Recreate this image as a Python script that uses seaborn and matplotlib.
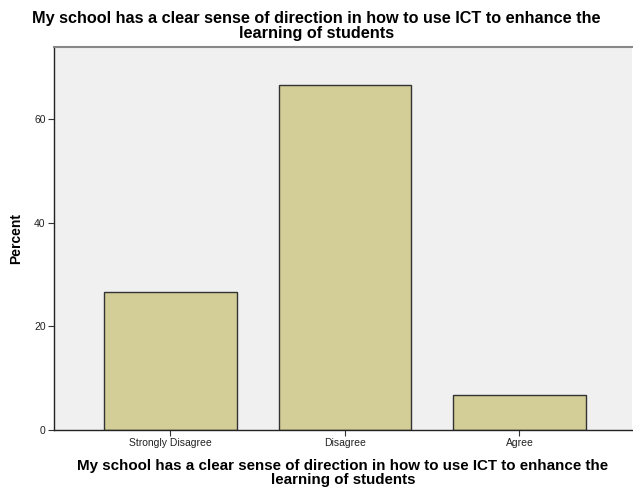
import matplotlib
matplotlib.use("Agg")
import matplotlib.pyplot as plt
import seaborn as sns
import pandas as pd

categories = ["Strongly Disagree", "Disagree", "Agree"]
percent = [26.67, 66.67, 6.67]
yticks = [0, 20, 40, 60]
title = "My school has a clear sense of direction in how to use ICT to enhance the\nlearning of students"

df = pd.DataFrame({"cat": categories, "pct": percent})

sns.set_style("white")
plt.rcParams["font.family"] = ["Liberation Sans", "DejaVu Sans"]

fig = plt.figure(figsize=(6.33, 4.91), dpi=100)
ax = fig.add_axes([0.0853, 0.1242, 0.9131, 0.7798])
ax.set_facecolor("#f0f0f0")

sns.barplot(data=df, x="cat", y="pct", color="#d3ce97", width=0.76,
            edgecolor="#333333", linewidth=1.0, saturation=1, ax=ax)

ax.set_xlim(-0.667, 2.645)
ax.set_ylim(0, 73.9)
ax.set_yticks(yticks)
ax.set_yticklabels([str(t) for t in yticks], fontsize=7.5, color="#222222")
ax.set_xticks(range(len(categories)))
ax.set_xticklabels(categories, fontsize=7.5, color="#222222")
ax.tick_params(axis="both", length=4, width=0.8, color="#333333", pad=2,
               bottom=True, left=True)

for side in ["left", "bottom"]:
    ax.spines[side].set_color("#222222")
    ax.spines[side].set_linewidth(1.0)
ax.spines["top"].set_color("#888888")
ax.spines["top"].set_linewidth(1.5)
ax.spines["right"].set_visible(False)

ax.set_ylabel("Percent", fontsize=10, fontweight="bold", labelpad=8, color="black")
ax.set_xlabel(title, fontsize=10.9, fontweight="bold", labelpad=8,
              linespacing=1.0, color="black")
fig.suptitle(title, fontsize=11.7, fontweight="bold", y=0.978, linespacing=1.0,
             color="black")

fig.savefig("out.png", dpi=100)
